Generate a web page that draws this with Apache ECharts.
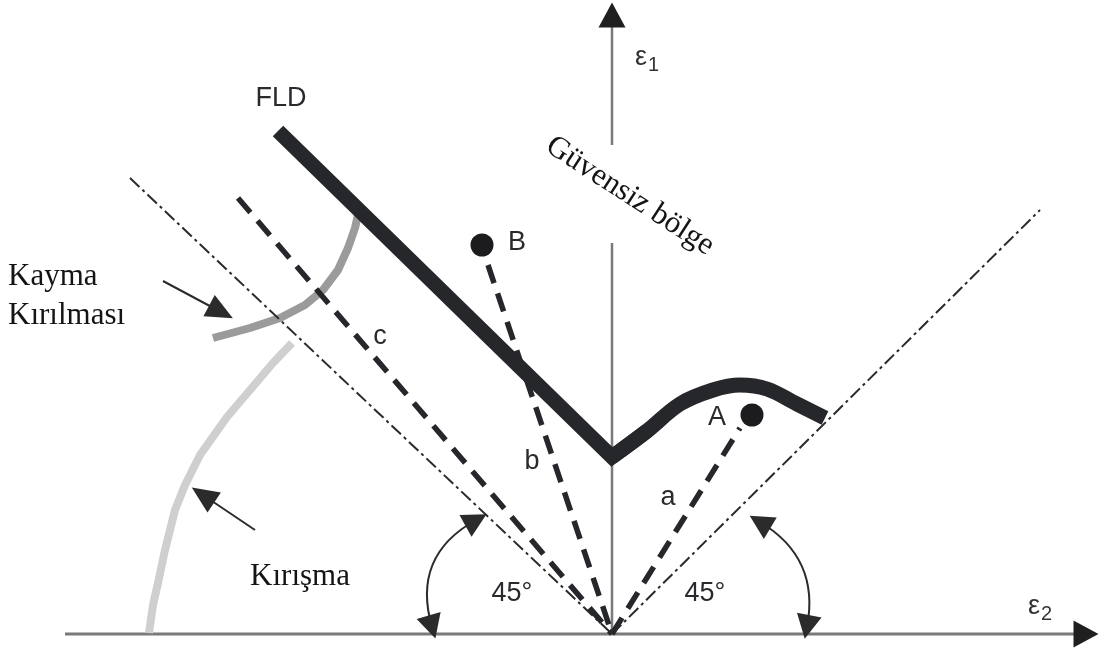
<!DOCTYPE html>
<html>
<head>
<meta charset="utf-8">
<title>FLD – şekillendirme sınır diyagramı</title>
<script src="https://cdn.jsdelivr.net/npm/echarts@6/dist/echarts.min.js"></script>
<style>
  html, body { margin: 0; padding: 0; background: #ffffff; }
  #chart { width: 1108px; height: 655px; }
</style>
</head>
<body>
<div id="chart"></div>
<script>
// Strain plane: x = ε2 (minor strain), y = ε1 (major strain), arbitrary units.
const axisE2 = [[-547, 0], [470, 0]];
const axisE1Lower = [[0, 0], [0, 391]];
const axisE1Upper = [[0, 489], [0, 612]];
const axisHeads = [[474, 0, -90], [0, 619, 0]];          // [x, y, rotation]

// Forming limit diagram curve
const fldLeft = [[-334, 503], [0, 177], [35, 203]];
const fldRight = [[0, 177], [35, 203], [68, 230], [101, 244], [128, 249], [155, 245], [185, 230], [213, 216]];

// 45° limits (pure shear / equi-biaxial directions)
const limitLeft = [[-482, 456], [0, 0]];
const limitRight = [[0, 0], [428, 424]];

// Strain paths a, b, c
const pathA = [[0, 0], [128, 206]];
const pathB = [[-124, 369], [0, 0]];
const pathC = [[-374, 436], [0, 0]];

// Final strain states
const statePoints = [[140, 219], [-130, 389]];

// Shear fracture and wrinkling limits
const shearCurve = [[-399, 296], [-362, 306], [-332, 316], [-307, 329], [-289, 344], [-274, 364], [-264, 386], [-257, 406], [-254, 419]];
const wrinkleCurve = [[-463, 1], [-459, 29], [-454, 51], [-447, 84], [-437, 124], [-427, 149], [-412, 179], [-385, 217], [-362, 244], [-339, 271], [-320, 291]];

// Pointer arrows and 45° angle arcs
const pointers = [
  [[-449, 353], [-391, 322]],
  [[-357, 104], [-409, 139]]
];
const angleArcs = [
  { coords: [[-136, 114], [-180, 7]], curveness: -0.4 },
  { coords: [[148, 112], [195, 7]], curveness: 0.35 }
];

// Text labels
const sansLabels = [
  ['FLD', -331, 535], ['a', 56, 136], ['b', -80, 172], ['c', -232, 297],
  ['A', 105, 216], ['B', -95, 391], ['45°', -100, 40], ['45°', 93, 40]
];
const serifLabels = [['Kırışma', -312, 57]];
const serifLeftLabels = [['Kayma\nKırılması', -604, 338]];
const zoneLabel = [['Güvensiz bölge', 18, 438]];
const axisLabels = [['1', 35, 576], ['2', 428, 27]];

const INK = '#26272b';
const SANS = "'Liberation Sans', Arial, sans-serif";
const SERIF = "'Liberation Serif', 'Times New Roman', serif";

function lineSeries(data, style, z) {
  return {
    type: 'line', data: data, symbol: 'none', silent: true, z: z || 2,
    lineStyle: style, animation: false
  };
}

function textSeries(items, label, z) {
  return {
    type: 'scatter', symbolSize: 0, silent: true, z: z || 10, animation: false,
    itemStyle: { opacity: 1 },
    data: items.map(it => ({ value: [it[1], it[2]], name: it[0] })),
    label: Object.assign({ show: true, position: 'inside', formatter: p => p.name }, label)
  };
}

const chart = echarts.init(document.getElementById('chart'), null, { renderer: 'canvas' });

chart.setOption({
  backgroundColor: '#ffffff',
  animation: false,
  grid: { left: 0, right: 0, top: 0, bottom: 0 },
  xAxis: { type: 'value', min: -612, max: 496, show: false },
  yAxis: { type: 'value', min: -21, max: 634, show: false },
  series: [
    // axes
    lineSeries(axisE2, { color: '#7a7a7a', width: 3 }, 1),
    lineSeries(axisE1Lower, { color: '#7a7a7a', width: 2.5 }, 1),
    lineSeries(axisE1Upper, { color: '#7a7a7a', width: 2.5 }, 1),
    {
      type: 'scatter', silent: true, z: 3, animation: false,
      symbol: 'triangle', symbolSize: [27, 25],
      itemStyle: { color: '#1f1f1f', opacity: 1 },
      data: axisHeads.map(h => ({ value: [h[0], h[1]], symbolRotate: h[2] }))
    },
    // limit curves for shear fracture and wrinkling
    lineSeries(wrinkleCurve, { color: '#cfcfcf', width: 8 }, 2),
    lineSeries(shearCurve, { color: '#9b9b9b', width: 8 }, 2),
    // 45° dash-dot limits
    lineSeries(limitLeft, { color: '#2a2a2a', width: 2, type: [13, 4, 3, 4] }, 3),
    lineSeries(limitRight, { color: '#2a2a2a', width: 2, type: [13, 4, 3, 4] }, 3),
    // strain paths
    lineSeries(pathA, { color: INK, width: 5.5, type: [19, 11] }, 4),
    lineSeries(pathB, { color: INK, width: 5.5, type: [19, 11] }, 4),
    lineSeries(pathC, { color: INK, width: 5.5, type: [19, 11] }, 4),
    // forming limit curve
    lineSeries(fldLeft, { color: INK, width: 15, join: 'miter', cap: 'butt' }, 5),
    Object.assign(lineSeries(fldRight, { color: INK, width: 15, join: 'miter', cap: 'butt' }, 5), { smooth: 0.35 }),
    // strain states A and B
    {
      type: 'scatter', silent: true, z: 6, animation: false,
      symbolSize: 23, itemStyle: { color: '#1c1c1f', opacity: 1 }, data: statePoints
    },
    // pointer arrows
    {
      type: 'lines', coordinateSystem: 'cartesian2d', silent: true, z: 6, animation: false,
      symbol: ['none', 'triangle'], symbolSize: [[24, 27], [24, 27]],
      lineStyle: { color: '#2b2b2b', width: 2, opacity: 1 },
      data: pointers.map(c => ({ coords: c }))
    },
    // 45° angle arcs
    {
      type: 'lines', coordinateSystem: 'cartesian2d', silent: true, z: 6, animation: false,
      symbol: ['triangle', 'triangle'], symbolSize: [[25, 24], [25, 24]],
      lineStyle: { color: '#2b2b2b', width: 2, opacity: 1 },
      data: angleArcs.map(a => ({ coords: a.coords, lineStyle: { curveness: a.curveness } }))
    },
    // labels
    textSeries(sansLabels, { fontFamily: SANS, fontSize: 27, color: '#2a2a2e' }),
    textSeries(serifLabels, { fontFamily: SERIF, fontSize: 31, color: '#141414' }),
    textSeries(serifLeftLabels, { fontFamily: SERIF, fontSize: 31, color: '#141414', align: 'left', lineHeight: 39 }),
    textSeries(zoneLabel, { fontFamily: SERIF, fontSize: 31, color: '#141414', rotate: -33 }),
    textSeries(axisLabels, {
      formatter: p => '{e|ε}{s|' + p.name + '}',
      rich: {
        e: { fontFamily: SANS, fontSize: 27, color: '#333337' },
        s: { fontFamily: SANS, fontSize: 20, color: '#333337', padding: [14, 0, 0, 1] }
      }
    })
  ]
});
</script>
</body>
</html>
